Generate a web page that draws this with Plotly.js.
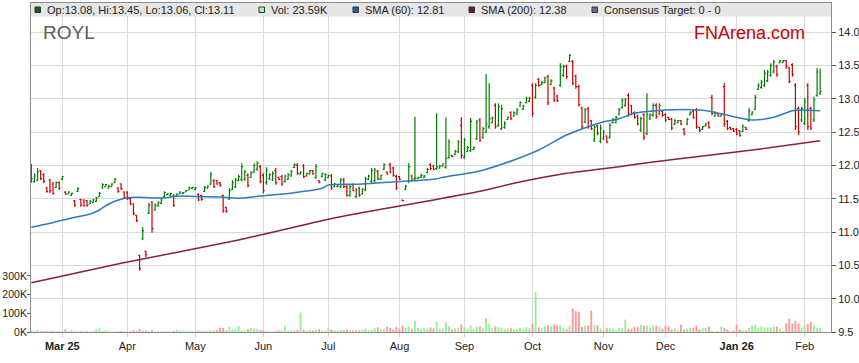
<!DOCTYPE html>
<html><head><meta charset="utf-8">
<script src="https://cdn.plot.ly/plotly-3.0.1.min.js"></script>
<style>html,body{margin:0;padding:0;background:#fff}#chart{width:859px;height:363px}</style>
</head><body><div id="chart"></div>
<script>
// ---- data (bar index = trading weekday from 17 Feb 2025) ----
const openP = [11.76,11.76,11.78,11.92,11.86,11.66,11.78,11.72,11.67,11.74,
11.79,11.60,11.57,11.55,11.47,11.61,11.49,11.48,11.47,11.42,
11.44,11.46,11.53,11.66,11.68,11.66,11.68,11.74,11.66,11.72,
11.60,11.60,11.50,11.42,11.25,10.65,10.90,10.71,11.28,11.45,
11.33,11.39,11.43,11.53,11.56,11.55,11.54,11.54,11.57,11.58,
11.60,11.63,11.65,11.64,11.56,11.55,11.61,11.66,11.72,11.77,
11.77,11.74,11.55,11.37,11.50,11.64,11.68,11.77,11.79,11.79,
11.85,11.82,11.90,11.94,11.98,11.85,11.74,11.80,11.78,11.92,
11.82,11.83,11.76,11.79,11.84,11.97,12.00,11.87,11.99,11.84,
11.87,11.92,11.82,11.77,11.83,11.78,11.82,11.84,11.68,11.68,
11.68,11.78,11.68,11.55,11.71,11.53,11.66,11.57,11.63,11.79,
11.76,11.77,11.91,11.79,11.94,11.90,12.01,11.96,11.83,11.83,
11.48,11.64,11.76,11.84,11.80,11.80,11.82,11.82,11.89,12.01,
11.99,11.95,11.96,11.99,11.97,12.12,12.15,12.16,12.20,12.60,
12.12,12.21,12.22,12.24,12.40,12.68,12.42,12.50,12.58,12.64,
12.90,12.60,12.55,12.57,12.69,12.79,12.74,12.77,12.89,12.84,
12.94,12.96,13.20,13.02,13.29,13.21,13.24,13.33,13.21,13.16,
13.04,13.20,13.35,13.49,13.56,13.56,13.34,13.18,12.86,12.65,
12.85,12.67,12.38,12.59,12.36,12.40,12.44,12.42,12.64,12.64,
12.77,12.87,12.90,13.05,12.89,12.79,12.74,12.53,12.76,12.48,
12.70,12.75,12.90,12.77,12.81,12.76,12.72,12.69,12.62,12.64,
12.67,12.54,12.62,12.76,12.81,12.83,12.57,12.54,12.59,12.64,
13.02,12.74,12.77,12.74,13.18,12.66,12.57,12.55,12.54,12.52,
12.51,12.57,12.67,12.76,12.84,13.14,13.17,13.20,13.27,13.35,
13.40,13.48,13.54,13.54,13.57,13.46,13.51,13.20,12.85,12.68,
12.63,13.20,12.85,12.68,13.05,13.08];
const highP = [12.02,11.88,11.96,11.93,11.88,11.68,11.80,11.75,11.76,11.76,
11.84,11.61,11.61,11.59,11.48,11.67,11.50,11.49,11.48,11.48,
11.50,11.53,11.60,11.73,11.72,11.71,11.73,11.81,11.67,11.73,
11.61,11.61,11.51,11.43,11.26,10.66,11.07,10.72,11.44,11.46,
11.43,11.46,11.51,11.61,11.58,11.59,11.57,11.58,11.61,11.60,
11.63,11.68,11.68,11.68,11.58,11.56,11.69,11.70,11.90,11.79,
11.78,11.75,11.56,11.38,11.66,11.78,11.81,11.86,12.03,11.93,
11.88,11.91,12.03,12.06,12.01,11.88,11.97,11.88,11.91,11.96,
11.83,11.86,11.86,11.88,11.93,12.03,12.03,11.91,12.02,11.89,
11.93,11.93,12.02,11.78,11.89,11.88,11.86,11.87,11.74,11.72,
11.81,11.81,11.71,11.71,11.73,11.66,11.68,11.66,11.83,11.86,
11.96,11.96,11.93,11.86,12.03,11.91,12.04,11.98,11.86,11.84,
11.48,11.71,12.03,11.86,12.73,11.83,11.87,11.86,11.96,12.03,
12.01,12.78,12.01,12.03,12.72,12.39,12.15,12.23,12.38,12.72,
12.41,12.29,12.71,12.28,12.68,12.71,12.58,13.37,13.23,12.73,
12.93,12.93,12.91,12.66,12.73,12.81,12.81,12.86,12.96,12.91,
13.03,13.03,13.23,13.23,13.31,13.26,13.33,13.36,13.29,13.18,
13.06,13.53,13.51,13.51,13.67,13.58,13.36,13.21,12.88,12.86,
12.88,12.68,12.61,12.61,12.61,12.53,12.45,12.63,12.71,12.74,
12.86,13.01,13.01,13.08,12.91,12.81,12.76,12.73,12.78,13.08,
12.78,12.93,12.93,12.93,12.83,12.78,12.73,12.71,12.69,12.68,
12.68,12.56,12.71,12.81,12.83,12.86,12.58,12.59,12.63,12.66,
13.06,12.81,12.78,12.78,13.23,12.68,12.58,12.56,12.56,12.53,
12.61,12.58,12.86,12.81,13.06,13.23,13.28,13.43,13.43,13.53,
13.58,13.51,13.58,13.58,13.58,13.48,13.53,13.23,12.88,12.88,
13.01,13.23,12.88,13.03,13.46,13.45];
const lowP = [11.74,11.74,11.76,11.78,11.73,11.59,11.58,11.56,11.66,11.63,
11.78,11.56,11.57,11.54,11.38,11.60,11.38,11.38,11.38,11.42,
11.44,11.45,11.53,11.65,11.68,11.65,11.68,11.74,11.59,11.63,
11.50,11.48,11.40,11.25,11.15,10.42,10.88,10.62,11.27,10.99,
11.32,11.38,11.42,11.52,11.55,11.54,11.38,11.54,11.57,11.57,
11.60,11.63,11.64,11.63,11.46,11.47,11.60,11.65,11.70,11.66,
11.71,11.68,11.29,11.29,11.48,11.63,11.66,11.76,11.76,11.77,
11.67,11.81,11.88,11.92,11.73,11.58,11.71,11.78,11.76,11.71,
11.78,11.69,11.74,11.78,11.83,11.96,11.86,11.86,11.81,11.83,
11.86,11.86,11.79,11.73,11.82,11.76,11.81,11.63,11.67,11.67,
11.66,11.66,11.53,11.53,11.61,11.51,11.53,11.56,11.61,11.78,
11.73,11.74,11.78,11.78,11.93,11.86,11.88,11.83,11.63,11.78,
11.46,11.63,11.73,11.76,11.78,11.79,11.81,11.81,11.88,11.93,
11.93,11.93,11.95,11.98,11.95,12.10,12.12,12.15,12.18,12.10,
12.10,12.20,12.20,12.23,12.38,12.35,12.40,12.48,12.55,12.63,
12.55,12.58,12.53,12.55,12.68,12.68,12.73,12.75,12.88,12.83,
12.93,12.95,12.73,13.00,13.18,13.20,13.23,12.90,13.20,12.95,
12.95,13.18,13.33,13.30,13.55,13.20,13.15,12.88,12.55,12.63,
12.55,12.53,12.35,12.45,12.33,12.38,12.33,12.40,12.63,12.63,
12.75,12.85,12.88,12.73,12.75,12.70,12.60,12.50,12.38,12.45,
12.68,12.73,12.70,12.75,12.73,12.65,12.68,12.53,12.60,12.63,
12.60,12.45,12.60,12.75,12.70,12.55,12.50,12.53,12.58,12.55,
12.75,12.73,12.73,12.73,12.58,12.53,12.53,12.50,12.45,12.43,
12.50,12.53,12.65,12.75,12.83,13.13,13.15,13.18,13.25,13.33,
13.38,13.33,13.53,13.53,13.45,13.23,13.33,12.53,12.45,12.65,
12.60,12.53,12.53,12.65,13.03,13.06];
const closeP = [11.80,11.84,11.90,11.80,11.76,11.61,11.62,11.58,11.74,11.66,
11.83,11.57,11.60,11.58,11.40,11.65,11.40,11.39,11.40,11.46,
11.48,11.51,11.58,11.71,11.71,11.69,11.72,11.79,11.61,11.65,
11.52,11.50,11.42,11.28,11.17,10.45,11.02,10.66,11.40,11.05,
11.40,11.44,11.48,11.59,11.57,11.58,11.40,11.57,11.60,11.59,
11.62,11.67,11.67,11.66,11.48,11.49,11.67,11.69,11.86,11.68,
11.72,11.70,11.32,11.31,11.62,11.74,11.78,11.83,11.98,11.90,
11.70,11.89,12.00,12.03,11.76,11.62,11.93,11.86,11.88,11.74,
11.79,11.72,11.84,11.86,11.91,12.01,11.88,11.90,11.83,11.88,
11.92,11.87,11.98,11.74,11.88,11.86,11.85,11.66,11.72,11.71,
11.78,11.68,11.55,11.68,11.62,11.63,11.55,11.64,11.80,11.84,
11.92,11.93,11.80,11.85,12.01,11.87,11.90,11.85,11.66,11.79,
11.47,11.69,11.98,11.78,11.81,11.82,11.85,11.84,11.94,11.95,
11.94,11.98,11.99,12.02,12.10,12.35,12.13,12.21,12.35,12.15,
12.38,12.27,12.66,12.27,12.65,12.38,12.55,12.62,12.70,12.71,
12.58,12.88,12.85,12.63,12.72,12.70,12.79,12.83,12.94,12.89,
13.01,13.01,12.78,13.20,13.20,13.24,13.31,12.94,13.27,12.98,
12.97,13.48,13.48,13.33,13.65,13.23,13.18,12.91,12.58,12.83,
12.58,12.55,12.57,12.48,12.56,12.50,12.35,12.60,12.69,12.72,
12.84,12.98,12.98,12.77,12.78,12.72,12.62,12.70,12.42,12.76,
12.76,12.90,12.73,12.90,12.75,12.68,12.69,12.56,12.67,12.67,
12.62,12.47,12.69,12.79,12.72,12.58,12.52,12.58,12.62,12.57,
12.78,12.79,12.74,12.77,12.62,12.55,12.54,12.51,12.47,12.45,
12.59,12.54,12.82,12.80,13.02,13.20,13.25,13.38,13.40,13.50,
13.55,13.36,13.57,13.57,13.48,13.26,13.36,12.58,12.50,12.85,
12.95,12.58,12.56,12.98,13.40,13.11];
// volume in thousands
const volumeK = [8,6,12,5,4,6,5,4,3,5,
4,14,5,10,3,4,5,3,4,3,
4,16,20,5,9,4,3,3,4,5,
4,3,4,10,6,16,9,9,6,9,
4,5,3,5,4,3,6,12,7,4,
7,4,5,5,7,5,7,7,7,7,
9,23,21,9,27,14,14,32,9,9,
16,21,18,16,11,11,5,3,3,7,
7,7,34,8,10,8,12,105,12,8,
10,8,12,15,9,7,20,14,10,8,
12,9,15,10,8,11,9,14,18,10,
12,20,25,15,18,30,22,14,28,18,
35,25,30,18,60,22,15,20,18,25,
20,55,15,18,50,30,14,18,22,40,
25,18,35,15,28,30,20,75,45,20,
30,25,22,15,18,20,14,16,22,18,
25,20,45,214,25,20,30,35,30,40,
35,34,22,14,34,125,111,109,27,34,
34,114,39,36,18,12,23,18,18,9,
21,21,66,18,18,27,25,39,34,34,
23,34,34,29,18,34,29,14,18,9,
39,14,18,23,23,34,14,21,23,29,
5,3,3,29,23,14,3,7,39,14,
9,9,20,34,39,20,29,25,25,25,
29,29,18,5,46,71,45,61,46,22,
38,43,55,34,23,23.59];
const sma60Idx = [0,6,12,19,22,25,29,31,35,42,48,54,61,67,74,85,94,96,107,118,124,130,134,145,156,164,173,180,184,190,195,205,216,220,227,233,240,246,249,255];
const sma60Val = [11.07,11.13,11.20,11.27,11.33,11.42,11.49,11.515,11.52,11.51,11.54,11.53,11.525,11.505,11.54,11.59,11.655,11.705,11.72,11.755,11.77,11.79,11.83,11.915,12.08,12.23,12.455,12.58,12.64,12.70,12.78,12.83,12.83,12.805,12.73,12.68,12.72,12.82,12.83,12.82];
const sma200Idx = [0,29,67,96,113,130,145,156,173,190,201,215,235,255];
const sma200Val = [10.24,10.53,10.88,11.19,11.34,11.48,11.61,11.73,11.88,11.98,12.05,12.13,12.24,12.37];
const monthTickIdx = [10,31,53,75,96,119,140,162,185,205,228,250];
const monthTickText = ['Mar 25','Apr','May','Jun','Jul','Aug','Sep','Oct','Nov','Dec','Jan 26','Feb'];
const volTickVals = [0,100,200,300];
const volTickText = ['0K','100K','200K','300K'];
const legendItems = [
  {label:'Op:13.08, Hi:13.45, Lo:13.06, Cl:13.11', color:'#007000'},
  {label:'Vol: 23.59K', color:'#99FF99'},
  {label:'SMA (60): 12.81', color:'#1565A8'},
  {label:'SMA (200): 12.38', color:'#7A1030'},
  {label:'Consensus Target: 0 - 0', color:'#6A6A9A'}
];
const legendXpx = [35, 259, 353, 469, 592];

// ---- geometry helpers ----
const W = 859, H = 363, ML = 31, MR = 28, MT = 3, MB = 31;
const PW = W - ML - MR, PH = H - MT - MB;
const px2x = p => (p - ML) / PW;
const py2y = p => 1 - (p - MT) / PH;

const idx = openP.map((_, i) => i);
const volColors = idx.map(i => closeP[i] > openP[i] ? '#99EE99' : (closeP[i] < openP[i] ? '#FF9A9A' : '#999999'));
const FONT = 'Liberation Sans, Arial, sans-serif';

const traces = [
  {type:'bar', x: idx, y: volumeK, yaxis:'y2', marker:{color: volColors, line:{width:0}}, width:0.62, hoverinfo:'skip', showlegend:false},
  {type:'ohlc', x: idx, open: openP, high: highP, low: lowP, close: closeP, yaxis:'y',
   increasing:{line:{color:'#008000', width:1.2}}, decreasing:{line:{color:'#CC0000', width:1.2}},
   tickwidth:0.45, showlegend:false, hoverinfo:'skip'},
  {type:'scatter', mode:'lines', x: sma60Idx, y: sma60Val, yaxis:'y', line:{color:'#2C7DBA', width:1.5, shape:'spline', smoothing:0.8}, showlegend:false, hoverinfo:'skip'},
  {type:'scatter', mode:'lines', x: sma200Idx, y: sma200Val, yaxis:'y', line:{color:'#8A1F45', width:1.5, shape:'spline', smoothing:0.6}, showlegend:false, hoverinfo:'skip'}
];

const shapes = [
  {type:'rect', xref:'paper', yref:'paper', x0:0, x1:1, y0:py2y(16.5), y1:1, fillcolor:'#E6E6E6', line:{width:0}, layer:'above'}
];
const annotations = [];
legendItems.forEach((it, k) => {
  const x0 = legendXpx[k];
  shapes.push({type:'rect', xref:'paper', yref:'paper', x0:px2x(x0), x1:px2x(x0+5.5), y0:py2y(12.5), y1:py2y(7), fillcolor:it.color, line:{color:'#333', width:1}, layer:'above'});
  annotations.push({xref:'paper', yref:'paper', x:px2x(x0+10), y:py2y(10), xanchor:'left', yanchor:'middle', showarrow:false,
    text: it.label, font:{family:FONT, size:11, color:'#222'}});
});
annotations.push({xref:'paper', yref:'paper', x:px2x(41), y:py2y(33), xanchor:'left', yanchor:'middle', showarrow:false,
  text:'ROYL', font:{family:FONT, size:19, color:'#5A5A5A'}});
annotations.push({xref:'paper', yref:'paper', x:px2x(692), y:py2y(33), xanchor:'left', yanchor:'middle', showarrow:false,
  text:'FNArena.com', font:{family:FONT, size:18, color:'#CC0000'}});

const layout = {
  width: W, height: H,
  margin: {l: ML, r: MR, t: MT, b: MB, pad: 0},
  paper_bgcolor:'#fff', plot_bgcolor:'#fff',
  showlegend:false,
  font:{family:FONT, size:11, color:'#222'},
  xaxis:{range:[-0.12, 258.5], tickmode:'array', tickvals: monthTickIdx,
    ticktext: monthTickText.map(t => /\d/.test(t) ? '<b>' + t + '</b>' : t),
    showgrid:true, gridcolor:'#D9D9D9', gridwidth:1, ticks:'outside', ticklen:4, tickcolor:'#D0D0D0',
    showline:true, linecolor:'#8C8C8C', linewidth:1, mirror:true, zeroline:false,
    rangeslider:{visible:false}, tickfont:{family:FONT, size:11, color:'#222'}, fixedrange:true},
  yaxis:{side:'right', range:[9.5, 14.435], tick0:9.5, dtick:0.5, tickformat:'.1f',
    showgrid:true, gridcolor:'#D9D9D9', gridwidth:1, ticks:'outside', ticklen:4, tickcolor:'#555',
    showline:true, linecolor:'#8C8C8C', linewidth:1, zeroline:false,
    tickfont:{family:FONT, size:11, color:'#222'}, fixedrange:true},
  yaxis2:{overlaying:'y', side:'left', range:[0, 1762], tickmode:'array', tickvals: volTickVals,
    ticktext: volTickText, showgrid:false, zeroline:false, ticks:'outside', ticklen:3, tickcolor:'#555',
    ticklabelstandoff:-2,
    showline:true, linecolor:'#8C8C8C', linewidth:1, tickfont:{family:FONT, size:10.5, color:'#222'}, fixedrange:true},
  bargap:0.3,
  shapes: shapes,
  annotations: annotations
};

Plotly.newPlot('chart', traces, layout, {displayModeBar:false, staticPlot:true});
</script>
</body></html>
